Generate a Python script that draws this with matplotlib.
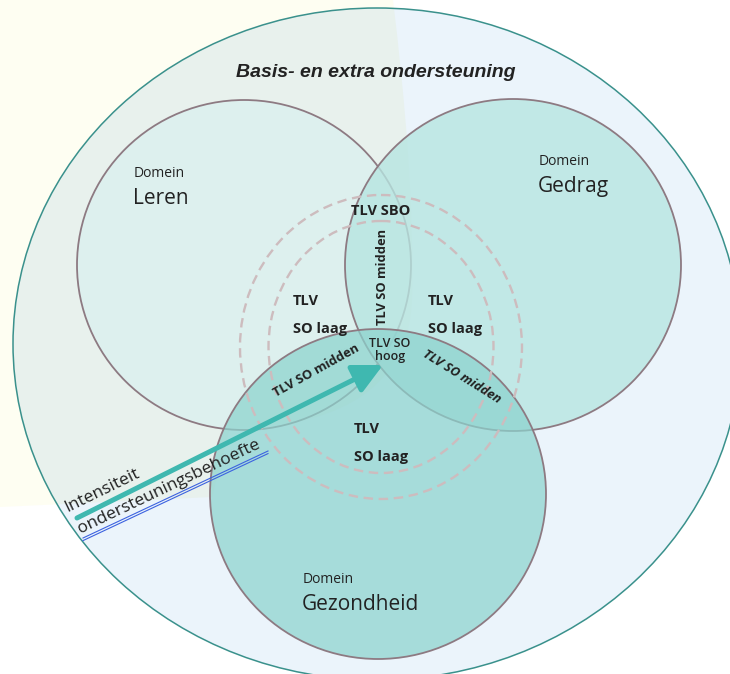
import matplotlib
matplotlib.use("Agg")
import matplotlib.pyplot as plt
from matplotlib.colors import to_rgba
from matplotlib.patches import Ellipse, PathPatch
from matplotlib.path import Path

# labels
TITLE = "Basis- en extra ondersteuning"
DOMAIN_WORD = "Domein"
DOMAINS = ["Leren", "Gedrag", "Gezondheid"]
ARROW_TEXT = ["Intensiteit", "ondersteuningsbehoefte"]
LAAG = ["TLV", "SO laag"]
MIDDEN = "TLV SO midden"
HOOG = ["TLV SO", "hoog"]
SBO = "TLV SBO"

# layout (pixels, y downwards)
W, H = 730, 674
BIG = (377, 344, 728, 672)
DOMAIN_CIRCLES = [(244, 265, 334, 330), (513, 265, 336, 332), (378, 494, 336, 330)]
DOMAIN_FILLS = ["#dcf0ef", "#b7e5e1", "#8cd3ce"]
DOMAIN_ALPHA = [0.85, 0.8, 0.72]
DOMAIN_TEXT_POS = [(134, 177), (539, 165), (303, 583)]
DASHED = [(381, 347, 282, 304), (381, 347, 225, 252)]
ARROW_START = (77, 518)
ARROW_TIP = (383, 365)

SANS = ["Open Sans", "DejaVu Sans"]
DARK = "#222222"
EDGE = "#8d7a82"

fig = plt.figure(figsize=(W / 100, H / 100), dpi=100)
ax = fig.add_axes([0, 0, 1, 1])
ax.set_xlim(0, W)
ax.set_ylim(H, 0)
ax.axis("off")

# cream background shape (upper left)
verts = [(0, 0), (393, 0), (405, 100), (414, 200), (412, 300),
         (408, 400), (320, 428), (230, 428), (212, 497), (0, 507), (0, 0)]
codes = [Path.MOVETO, Path.LINETO, Path.CURVE4, Path.CURVE4, Path.CURVE4,
         Path.CURVE4, Path.CURVE4, Path.CURVE4, Path.LINETO, Path.LINETO,
         Path.CLOSEPOLY]
shape = Path(verts, codes)
ax.add_patch(PathPatch(shape, facecolor="#fefef2", edgecolor="none", zorder=0))

# big ellipse
big = Ellipse(BIG[:2], BIG[2], BIG[3], facecolor="#ebf4fb", edgecolor="none", zorder=1)
ax.add_patch(big)
inner = PathPatch(shape, facecolor="#e8f1ed", edgecolor="none", zorder=1.5)
ax.add_patch(inner)
inner.set_clip_path(big)
ax.add_patch(Ellipse(BIG[:2], BIG[2], BIG[3], facecolor="none",
                     edgecolor="#3a918c", lw=1.1, zorder=2))

# domain circles
for (cx, cy, w, h), fc, a in zip(DOMAIN_CIRCLES, DOMAIN_FILLS, DOMAIN_ALPHA):
    ax.add_patch(Ellipse((cx, cy), w, h, facecolor=to_rgba(fc, a),
                         edgecolor=EDGE, lw=1.3, zorder=3))

# dashed rings
for cx, cy, w, h in DASHED:
    ax.add_patch(Ellipse((cx, cy), w, h, facecolor="none", edgecolor="#cdbcbe",
                         lw=1.7, linestyle=(0, (4, 2.4)), zorder=4))

# arrow
ax.annotate("", xy=ARROW_TIP, xytext=ARROW_START, zorder=5,
            arrowprops=dict(arrowstyle="-|>,head_length=0.9,head_width=0.45",
                            color="#3fb8b0", lw=3.6, mutation_scale=20,
                            shrinkA=0, shrinkB=0))

# title
ax.text(376, 77, TITLE, fontsize=14, fontweight="bold", fontstyle="italic",
        family=["Liberation Sans", "DejaVu Sans"], color=DARK,
        ha="center", va="baseline", zorder=6)

# domain labels
for name, (x, y) in zip(DOMAINS, DOMAIN_TEXT_POS):
    ax.text(x, y, DOMAIN_WORD, fontsize=10, family=SANS, color=DARK,
            va="baseline", zorder=6)
    ax.text(x - 1, y + 27, name, fontsize=15, family=SANS, color=DARK,
            va="baseline", zorder=6)

# level labels
bold = dict(family=SANS, fontweight="bold", color=DARK, zorder=6)
ax.text(381, 211, SBO, fontsize=10.5, ha="center", va="center", **bold)
ax.text(383, 277, MIDDEN, fontsize=9.3, rotation=90, ha="center", va="center", **bold)
ax.text(316, 371, MIDDEN, fontsize=9.3, rotation=29, ha="center", va="center",
        rotation_mode="anchor", **bold)
ax.text(462, 377, MIDDEN, fontsize=9.3, rotation=-32, ha="center", va="center",
        rotation_mode="anchor", fontstyle="italic", **bold)
for x, y in [(293, 305), (428, 305), (354, 433)]:
    ax.text(x, y, LAAG[0], fontsize=10.5, va="baseline", **bold)
    ax.text(x, y + 28, LAAG[1], fontsize=10.5, va="baseline", **bold)
ax.text(390, 347, HOOG[0], fontsize=9, ha="center", va="baseline",
        family=SANS, fontweight="semibold", color=DARK, zorder=6)
ax.text(390, 360, HOOG[1], fontsize=9, ha="center", va="baseline",
        family=SANS, fontweight="semibold", color=DARK, zorder=6)

# arrow caption
ax.text(67, 512, ARROW_TEXT[0], fontsize=12.5, family=SANS, color=DARK,
        rotation=26, rotation_mode="anchor", ha="left", va="baseline", zorder=6)
ax.text(80, 533, ARROW_TEXT[1], fontsize=12.5, family=SANS, color=DARK,
        rotation=25.5, rotation_mode="anchor", ha="left", va="baseline", zorder=6)
for off in (0, 2.6):
    ax.plot([83, 268], [538 + off, 451 + off], color="#3c62e0", lw=0.8, zorder=6)

fig.savefig("out.png", dpi=100)
